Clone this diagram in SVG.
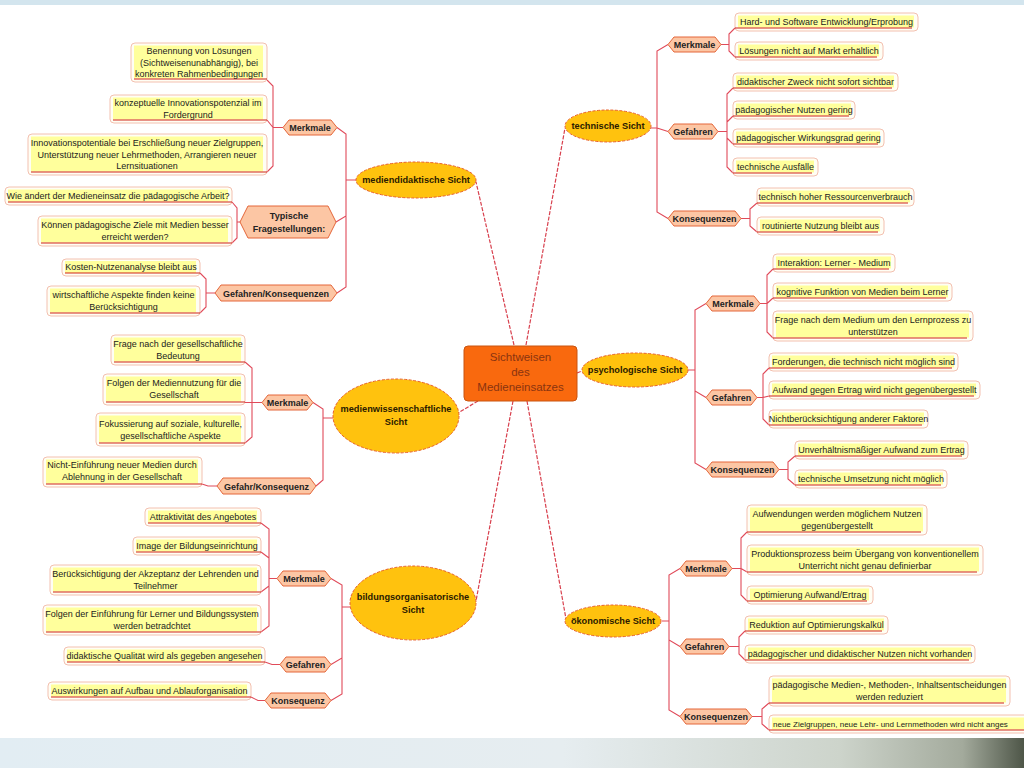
<svg xmlns="http://www.w3.org/2000/svg" width="1024" height="768" viewBox="0 0 1024 768">
<defs>
<linearGradient id="bot" x1="0" y1="0" x2="1" y2="0">
<stop offset="0" stop-color="#e2edf3"/>
<stop offset="0.55" stop-color="#e6edf0"/>
<stop offset="0.82" stop-color="#cdd4cb"/>
<stop offset="0.94" stop-color="#a3aa9c"/>
<stop offset="1" stop-color="#4e5648"/>
</linearGradient>
<style>
.lb{fill:#fffef4;stroke:#f3c0b0;stroke-width:1}
.ly{fill:#ffff9c}
.ul{stroke:#d02418;stroke-width:1.2}
.lt{font-family:"Liberation Sans",Arial,sans-serif;font-size:9px;fill:#1c1c1c;text-anchor:middle}
.ls{font-family:"Liberation Sans",Arial,sans-serif;font-size:8px;fill:#1c1c1c}
.hx{fill:#fcc6a4;stroke:#e4663a;stroke-width:1}
.ht{font-family:"Liberation Sans",Arial,sans-serif;font-size:9px;font-weight:bold;fill:#222;text-anchor:middle}
.el{fill:#ffc20e;stroke:#e8602e;stroke-width:1;stroke-dasharray:3 1.5}
.et{font-family:"Liberation Sans",Arial,sans-serif;font-size:9.2px;font-weight:bold;fill:#2a1a00;text-anchor:middle}
.cn{fill:none;stroke:#e04a5a;stroke-width:1.1}
.mc{fill:none;stroke:#d8404e;stroke-width:1.2;stroke-dasharray:4 1.5}
.ct{font-family:"Liberation Sans",Arial,sans-serif;font-size:11.5px;fill:#8a3410;text-anchor:middle}
</style>
</defs>
<rect x="0" y="0" width="1024" height="768" fill="#ffffff"/>
<rect x="0" y="0" width="1024" height="5" fill="#d3e5ee"/>
<rect x="0" y="738" width="1024" height="30" fill="url(#bot)"/>

<g id="connectors">
<path class="mc" d="M514,345 L476,182"/>
<path class="mc" d="M526,345 L565,128"/>
<path class="mc" d="M577,373 L582,371"/>
<path class="mc" d="M478,401 L458,413"/>
<path class="mc" d="M513,401 L476,601"/>
<path class="mc" d="M527,401 L566,619"/>

<path class="cn" d="M356,180 H346 V134 L337,127.5 M346,180 V216 L336,222 M346,216 V287 L337,293"/>
<path class="cn" d="M283,127.5 H273 V86 L267,80 M273,127.5 L267,120 M273,127.5 V166 L267,172"/>
<path class="cn" d="M240,222 H237 V208 L232,202 M237,222 V238 L232,243"/>
<path class="cn" d="M215,293 H206 V279 L200,273 M206,293 V307 L200,313"/>

<path class="cn" d="M333,418 H323 V409 L313,402.5 M323,418 V480 L316,486"/>
<path class="cn" d="M262,402.5 H252 V368 L245,362 M262,402.5 H245 M252,402.5 V437 L245,443"/>
<path class="cn" d="M217,486 H208 L202,484"/>

<path class="cn" d="M350,607 H342 V585 L331,578.5 M342,607 V658 L331,664.5 M342,658 V694 L331,700.5"/>
<path class="cn" d="M277,578.5 H269 V529 L261,523 M269,558 L261,552 M269,578.5 V586 L261,592 M269,578.5 V626 L261,632"/>
<path class="cn" d="M280,664.5 H272 L265,662"/>
<path class="cn" d="M265,700.5 H258 L251,697"/>

<path class="cn" d="M651,128 H657 V51 L668,44.5 M657,128 L668,131.5 M657,128 V212 L668,218.5"/>
<path class="cn" d="M721,44.5 H729 V34 L735,28 M729,44.5 V51 L735,57"/>
<path class="cn" d="M718,131.5 H727 V94 L733,88 M727,122 L733,116 M727,131.5 V138 L733,144 M727,131.5 V167 L733,173"/>
<path class="cn" d="M741,218.5 H750 V209 L757,203 M750,218.5 V226 L757,232"/>

<path class="cn" d="M688,370 H695 V310 L706,303.5 M695,370 V391 L706,397.5 M695,391 V463 L706,469.5"/>
<path class="cn" d="M760,303.5 H767 V275 L773,269 M767,303.5 L773,298 M767,303.5 V332 L773,338"/>
<path class="cn" d="M757,397.5 H763 V374 L769,368 M763,397.5 L769,396 M763,397.5 V419 L769,425"/>
<path class="cn" d="M779,469.5 H788 V462 L795,456 M788,469.5 V479 L795,485"/>

<path class="cn" d="M662,621 H669 V575 L680,568.5 M669,621 V640 L680,646.5 M669,640 V710 L680,716.5"/>
<path class="cn" d="M732,568.5 H741 V538 L747,532 M741,568.5 L747,572 M741,568.5 V595 L747,601"/>
<path class="cn" d="M729,646.5 H739 V637 L745,631 M739,646.5 V654 L745,660"/>
<path class="cn" d="M752,716.5 H762 V709 L769,703 M762,716.5 V724 L769,730"/>
</g>

<g id="center">
<rect x="464" y="346" width="113" height="55" rx="4" fill="#f9690e" stroke="#c95410" stroke-width="1"/>
<text class="ct" x="520.5" y="361">Sichtweisen</text>
<text class="ct" x="520.5" y="376">des</text>
<text class="ct" x="520.5" y="391">Medieneinsatzes</text>
</g>

<!-- mediendidaktische Sicht -->
<g id="mediendidaktisch">
<ellipse class="el" cx="416" cy="180" rx="60" ry="18"/>
<text class="et" x="416" y="183">mediendidaktische Sicht</text>
</g>
<g id="md-merkmale">
<polygon class="hx" points="283,127.5 289,120 331,120 337,127.5 331,135 289,135"/>
<text class="ht" x="310" y="131">Merkmale</text>
</g>
<g id="md-fragen">
<polygon class="hx" points="240,222 248,206 328,206 336,222 328,238 248,238"/>
<text class="ht" x="289" y="219">Typische</text>
<text class="ht" x="289" y="232">Fragestellungen:</text>
</g>
<g id="md-gefahren">
<polygon class="hx" points="215,293 221,285 331,285 337,293 331,301 221,301"/>
<text class="ht" x="276" y="296.5">Gefahren/Konsequenzen</text>
</g>
<g id="md-l1">
<rect class="lb" x="131" y="43" width="136" height="39" rx="4"/>
<rect class="ly" x="134" y="45.5" width="129" height="33"/>
<line class="ul" x1="134" y1="79" x2="267" y2="79"/>
<text class="lt" x="199" y="54">Benennung von Lösungen</text>
<text class="lt" x="199" y="65.5">(Sichtweisenunabhängig), bei</text>
<text class="lt" x="199" y="77">konkreten Rahmenbedingungen</text>
</g>
<g id="md-l2">
<rect class="lb" x="110" y="95" width="157" height="28" rx="4"/>
<rect class="ly" x="113" y="97.5" width="150" height="22"/>
<line class="ul" x1="113" y1="120" x2="267" y2="120"/>
<text class="lt" x="188" y="106">konzeptuelle Innovationspotenzial im</text>
<text class="lt" x="188" y="117.5">Fordergrund</text>
</g>
<g id="md-l3">
<rect class="lb" x="28" y="134" width="239" height="41" rx="4"/>
<rect class="ly" x="31" y="136.5" width="232" height="35"/>
<line class="ul" x1="31" y1="172" x2="267" y2="172"/>
<text class="lt" x="147" y="146">Innovationspotentiale bei Erschließung neuer Zielgruppen,</text>
<text class="lt" x="147" y="157.5">Unterstützung neuer Lehrmethoden, Arrangieren neuer</text>
<text class="lt" x="147" y="169">Lernsituationen</text>
</g>
<g id="md-l4">
<rect class="lb" x="5" y="187" width="227" height="18" rx="4"/>
<rect class="ly" x="8" y="189.5" width="220" height="12"/>
<line class="ul" x1="8" y1="202" x2="232" y2="202"/>
<text class="lt" x="118" y="199">Wie ändert der Medieneinsatz die pädagogische Arbeit?</text>
</g>
<g id="md-l5">
<rect class="lb" x="38" y="216" width="194" height="30" rx="4"/>
<rect class="ly" x="41" y="218.5" width="187" height="24"/>
<line class="ul" x1="41" y1="243" x2="232" y2="243"/>
<text class="lt" x="135" y="228">Können pädagogische Ziele mit Medien besser</text>
<text class="lt" x="135" y="240">erreicht werden?</text>
</g>
<g id="md-l6">
<rect class="lb" x="62" y="259" width="138" height="17" rx="4"/>
<rect class="ly" x="65" y="261" width="131" height="12"/>
<line class="ul" x1="65" y1="273" x2="200" y2="273"/>
<text class="lt" x="131" y="270">Kosten-Nutzenanalyse bleibt aus</text>
</g>
<g id="md-l7">
<rect class="lb" x="47" y="286" width="153" height="30" rx="4"/>
<rect class="ly" x="50" y="288.5" width="146" height="24"/>
<line class="ul" x1="50" y1="313" x2="200" y2="313"/>
<text class="lt" x="123.5" y="298">wirtschaftliche Aspekte finden keine</text>
<text class="lt" x="123.5" y="310">Berücksichtigung</text>
</g>

<!-- medienwissenschaftliche Sicht -->
<g id="medienwissenschaftlich">
<ellipse class="el" cx="396" cy="416" rx="63" ry="37"/>
<text class="et" x="396" y="412">medienwissenschaftliche</text>
<text class="et" x="396" y="425">Sicht</text>
</g>
<g id="mw-merkmale">
<polygon class="hx" points="262,402.5 268,395 307,395 313,402.5 307,410 268,410"/>
<text class="ht" x="287.5" y="406">Merkmale</text>
</g>
<g id="mw-gefahr">
<polygon class="hx" points="217,486 223,478 310,478 316,486 310,494 223,494"/>
<text class="ht" x="266.5" y="489.5">Gefahr/Konsequenz</text>
</g>
<g id="mw-l1">
<rect class="lb" x="111" y="335" width="134" height="30" rx="4"/>
<rect class="ly" x="114" y="337.5" width="127" height="24"/>
<line class="ul" x1="114" y1="362" x2="245" y2="362"/>
<text class="lt" x="178" y="347">Frage nach der gesellschaftliche</text>
<text class="lt" x="178" y="359">Bedeutung</text>
</g>
<g id="mw-l2">
<rect class="lb" x="103" y="374" width="142" height="31" rx="4"/>
<rect class="ly" x="106" y="376.5" width="135" height="25"/>
<line class="ul" x1="106" y1="402" x2="245" y2="402"/>
<text class="lt" x="174" y="386">Folgen der Mediennutzung für die</text>
<text class="lt" x="174" y="398">Gesellschaft</text>
</g>
<g id="mw-l3">
<rect class="lb" x="96" y="413" width="149" height="33" rx="4"/>
<rect class="ly" x="99" y="415.5" width="142" height="27"/>
<line class="ul" x1="99" y1="443" x2="245" y2="443"/>
<text class="lt" x="170.5" y="427">Fokussierung auf soziale, kulturelle,</text>
<text class="lt" x="170.5" y="439">gesellschaftliche Aspekte</text>
</g>
<g id="mw-l4">
<rect class="lb" x="43" y="457" width="159" height="30" rx="4"/>
<rect class="ly" x="46" y="459.5" width="152" height="24"/>
<line class="ul" x1="46" y1="484" x2="202" y2="484"/>
<text class="lt" x="122" y="468">Nicht-Einführung neuer Medien durch</text>
<text class="lt" x="122" y="480">Ablehnung in der Gesellschaft</text>
</g>

<!-- bildungsorganisatorische Sicht -->
<g id="bildungsorganisatorisch">
<ellipse class="el" cx="413" cy="603" rx="63" ry="37"/>
<text class="et" x="413" y="600">bildungsorganisatorische</text>
<text class="et" x="413" y="613">Sicht</text>
</g>
<g id="bo-merkmale">
<polygon class="hx" points="277,578.5 283,571 325,571 331,578.5 325,586 283,586"/>
<text class="ht" x="304" y="582">Merkmale</text>
</g>
<g id="bo-gefahren">
<polygon class="hx" points="280,664.5 286,657 325,657 331,664.5 325,672 286,672"/>
<text class="ht" x="305.5" y="668">Gefahren</text>
</g>
<g id="bo-konsequenz">
<polygon class="hx" points="265,700.5 271,693 325,693 331,700.5 325,708 271,708"/>
<text class="ht" x="298" y="704">Konsequenz</text>
</g>
<g id="bo-l1">
<rect class="lb" x="145" y="508" width="116" height="18" rx="4"/>
<rect class="ly" x="148" y="510.5" width="109" height="12"/>
<line class="ul" x1="148" y1="523" x2="261" y2="523"/>
<text class="lt" x="203" y="520">Attraktivität des Angebotes</text>
</g>
<g id="bo-l2">
<rect class="lb" x="133" y="537" width="128" height="18" rx="4"/>
<rect class="ly" x="136" y="539.5" width="121" height="12"/>
<line class="ul" x1="136" y1="552" x2="261" y2="552"/>
<text class="lt" x="197" y="549">Image der Bildungseinrichtung</text>
</g>
<g id="bo-l3">
<rect class="lb" x="50" y="565" width="211" height="30" rx="4"/>
<rect class="ly" x="53" y="567.5" width="204" height="24"/>
<line class="ul" x1="53" y1="592" x2="261" y2="592"/>
<text class="lt" x="155.5" y="577">Berücksichtigung der Akzeptanz der Lehrenden und</text>
<text class="lt" x="155.5" y="589">Teilnehmer</text>
</g>
<g id="bo-l4">
<rect class="lb" x="43" y="605" width="218" height="30" rx="4"/>
<rect class="ly" x="46" y="607.5" width="211" height="24"/>
<line class="ul" x1="46" y1="632" x2="261" y2="632"/>
<text class="lt" x="152" y="617">Folgen der Einführung für Lerner und Bildungssystem</text>
<text class="lt" x="152" y="629">werden betradchtet</text>
</g>
<g id="bo-l5">
<rect class="lb" x="64" y="647" width="201" height="18" rx="4"/>
<rect class="ly" x="67" y="649.5" width="194" height="12"/>
<line class="ul" x1="67" y1="662" x2="265" y2="662"/>
<text class="lt" x="164.5" y="659">didaktische Qualität wird als gegeben angesehen</text>
</g>
<g id="bo-l6">
<rect class="lb" x="48" y="682" width="203" height="18" rx="4"/>
<rect class="ly" x="51" y="684.5" width="196" height="12"/>
<line class="ul" x1="51" y1="697" x2="251" y2="697"/>
<text class="lt" x="149.5" y="694">Auswirkungen auf Aufbau und Ablauforganisation</text>
</g>

<!-- technische Sicht -->
<g id="technisch">
<ellipse class="el" cx="608" cy="126" rx="43" ry="16"/>
<text class="et" x="608" y="129">technische Sicht</text>
</g>
<g id="te-merkmale">
<polygon class="hx" points="668,44.5 674,37 715,37 721,44.5 715,52 674,52"/>
<text class="ht" x="694.5" y="48">Merkmale</text>
</g>
<g id="te-gefahren">
<polygon class="hx" points="668,131.5 674,124 712,124 718,131.5 712,139 674,139"/>
<text class="ht" x="693" y="135">Gefahren</text>
</g>
<g id="te-konsequenzen">
<polygon class="hx" points="668,218.5 674,211 735,211 741,218.5 735,226 674,226"/>
<text class="ht" x="704.5" y="222">Konsequenzen</text>
</g>
<g id="te-l1">
<rect class="lb" x="735" y="13" width="183" height="18" rx="4"/>
<rect class="ly" x="738" y="15.5" width="176" height="12"/>
<line class="ul" x1="735" y1="28" x2="912" y2="28"/>
<text class="lt" x="826.5" y="25">Hard- und Software Entwicklung/Erprobung</text>
</g>
<g id="te-l2">
<rect class="lb" x="735" y="42" width="148" height="18" rx="4"/>
<rect class="ly" x="738" y="44.5" width="141" height="12"/>
<line class="ul" x1="735" y1="57" x2="877" y2="57"/>
<text class="lt" x="809" y="54">Lösungen nicht auf Markt erhältlich</text>
</g>
<g id="te-l3">
<rect class="lb" x="733" y="73" width="165" height="18" rx="4"/>
<rect class="ly" x="736" y="75.5" width="158" height="12"/>
<line class="ul" x1="733" y1="88" x2="892" y2="88"/>
<text class="lt" x="815.5" y="85">didaktischer Zweck nicht sofort sichtbar</text>
</g>
<g id="te-l4">
<rect class="lb" x="733" y="101" width="122" height="18" rx="4"/>
<rect class="ly" x="736" y="103.5" width="115" height="12"/>
<line class="ul" x1="733" y1="116" x2="849" y2="116"/>
<text class="lt" x="794" y="113">pädagogischer Nutzen gering</text>
</g>
<g id="te-l5">
<rect class="lb" x="733" y="129" width="151" height="18" rx="4"/>
<rect class="ly" x="736" y="131.5" width="144" height="12"/>
<line class="ul" x1="733" y1="144" x2="878" y2="144"/>
<text class="lt" x="808.5" y="141">pädagogischer Wirkungsgrad gering</text>
</g>
<g id="te-l6">
<rect class="lb" x="733" y="158" width="85" height="18" rx="4"/>
<rect class="ly" x="736" y="160.5" width="78" height="12"/>
<line class="ul" x1="733" y1="173" x2="812" y2="173"/>
<text class="lt" x="775.5" y="170">technische Ausfälle</text>
</g>
<g id="te-l7">
<rect class="lb" x="757" y="188" width="157" height="18" rx="4"/>
<rect class="ly" x="760" y="190.5" width="150" height="12"/>
<line class="ul" x1="757" y1="203" x2="908" y2="203"/>
<text class="lt" x="835.5" y="200">technisch hoher Ressourcenverbrauch</text>
</g>
<g id="te-l8">
<rect class="lb" x="757" y="217" width="127" height="18" rx="4"/>
<rect class="ly" x="760" y="219.5" width="120" height="12"/>
<line class="ul" x1="757" y1="232" x2="878" y2="232"/>
<text class="lt" x="820.5" y="229">routinierte Nutzung bleibt aus</text>
</g>

<!-- psychologische Sicht -->
<g id="psychologisch">
<ellipse class="el" cx="635" cy="370" rx="53" ry="17"/>
<text class="et" x="635" y="373">psychologische Sicht</text>
</g>
<g id="ps-merkmale">
<polygon class="hx" points="706,303.5 712,296 754,296 760,303.5 754,311 712,311"/>
<text class="ht" x="733" y="307">Merkmale</text>
</g>
<g id="ps-gefahren">
<polygon class="hx" points="706,397.5 712,390 751,390 757,397.5 751,405 712,405"/>
<text class="ht" x="731.5" y="401">Gefahren</text>
</g>
<g id="ps-konsequenzen">
<polygon class="hx" points="706,469.5 712,462 773,462 779,469.5 773,477 712,477"/>
<text class="ht" x="742.5" y="473">Konsequenzen</text>
</g>
<g id="ps-l1">
<rect class="lb" x="773" y="254" width="122" height="18" rx="4"/>
<rect class="ly" x="776" y="256.5" width="115" height="12"/>
<line class="ul" x1="773" y1="269" x2="889" y2="269"/>
<text class="lt" x="834" y="266">Interaktion: Lerner - Medium</text>
</g>
<g id="ps-l2">
<rect class="lb" x="773" y="283" width="179" height="18" rx="4"/>
<rect class="ly" x="776" y="285.5" width="172" height="12"/>
<line class="ul" x1="773" y1="298" x2="946" y2="298"/>
<text class="lt" x="862.5" y="295">kognitive Funktion von Medien beim Lerner</text>
</g>
<g id="ps-l3">
<rect class="lb" x="773" y="311" width="200" height="30" rx="4"/>
<rect class="ly" x="776" y="313.5" width="193" height="24"/>
<line class="ul" x1="773" y1="338" x2="967" y2="338"/>
<text class="lt" x="873" y="323">Frage nach dem Medium um den Lernprozess zu</text>
<text class="lt" x="873" y="335">unterstützen</text>
</g>
<g id="ps-l4">
<rect class="lb" x="769" y="353" width="189" height="18" rx="4"/>
<rect class="ly" x="772" y="355.5" width="182" height="12"/>
<line class="ul" x1="769" y1="368" x2="952" y2="368"/>
<text class="lt" x="863.5" y="365">Forderungen, die technisch nicht möglich sind</text>
</g>
<g id="ps-l5">
<rect class="lb" x="769" y="381" width="211" height="18" rx="4"/>
<rect class="ly" x="772" y="383.5" width="204" height="12"/>
<line class="ul" x1="769" y1="396" x2="974" y2="396"/>
<text class="lt" x="874.5" y="393">Aufwand gegen Ertrag wird nicht gegenübergestellt</text>
</g>
<g id="ps-l6">
<rect class="lb" x="769" y="410" width="159" height="18" rx="4"/>
<rect class="ly" x="772" y="412.5" width="152" height="12"/>
<line class="ul" x1="769" y1="425" x2="922" y2="425"/>
<text class="lt" x="848.5" y="422">Nichtberücksichtigung anderer Faktoren</text>
</g>
<g id="ps-l7">
<rect class="lb" x="795" y="441" width="173" height="18" rx="4"/>
<rect class="ly" x="798" y="443.5" width="166" height="12"/>
<line class="ul" x1="795" y1="456" x2="962" y2="456"/>
<text class="lt" x="881.5" y="453">Unverhältnismäßiger Aufwand zum Ertrag</text>
</g>
<g id="ps-l8">
<rect class="lb" x="795" y="470" width="152" height="18" rx="4"/>
<rect class="ly" x="798" y="472.5" width="145" height="12"/>
<line class="ul" x1="795" y1="485" x2="941" y2="485"/>
<text class="lt" x="871" y="482">technische Umsetzung nicht möglich</text>
</g>

<!-- ökonomische Sicht -->
<g id="oekonomisch">
<ellipse class="el" cx="613" cy="621" rx="48" ry="16"/>
<text class="et" x="613" y="624">ökonomische Sicht</text>
</g>
<g id="oe-merkmale">
<polygon class="hx" points="680,568.5 686,561 726,561 732,568.5 726,576 686,576"/>
<text class="ht" x="706" y="572">Merkmale</text>
</g>
<g id="oe-gefahren">
<polygon class="hx" points="680,646.5 686,639 723,639 729,646.5 723,654 686,654"/>
<text class="ht" x="704.5" y="650">Gefahren</text>
</g>
<g id="oe-konsequenzen">
<polygon class="hx" points="680,716.5 686,709 746,709 752,716.5 746,724 686,724"/>
<text class="ht" x="716" y="720">Konsequenzen</text>
</g>
<g id="oe-l1">
<rect class="lb" x="747" y="505" width="180" height="30" rx="4"/>
<rect class="ly" x="750" y="507.5" width="173" height="24"/>
<line class="ul" x1="747" y1="532" x2="921" y2="532"/>
<text class="lt" x="837" y="517">Aufwendungen werden möglichem Nutzen</text>
<text class="lt" x="837" y="529">gegenübergestellt</text>
</g>
<g id="oe-l2">
<rect class="lb" x="747" y="545" width="236" height="30" rx="4"/>
<rect class="ly" x="750" y="547.5" width="229" height="24"/>
<line class="ul" x1="747" y1="572" x2="977" y2="572"/>
<text class="lt" x="865" y="557">Produktionsprozess beim Übergang von konventionellem</text>
<text class="lt" x="865" y="569">Unterricht nicht genau definierbar</text>
</g>
<g id="oe-l3">
<rect class="lb" x="747" y="586" width="126" height="18" rx="4"/>
<rect class="ly" x="750" y="588.5" width="119" height="12"/>
<line class="ul" x1="747" y1="601" x2="867" y2="601"/>
<text class="lt" x="810" y="598">Optimierung Aufwand/Ertrag</text>
</g>
<g id="oe-l4">
<rect class="lb" x="745" y="616" width="143" height="18" rx="4"/>
<rect class="ly" x="748" y="618.5" width="136" height="12"/>
<line class="ul" x1="745" y1="631" x2="882" y2="631"/>
<text class="lt" x="816.5" y="628">Reduktion auf Optimierungskalkül</text>
</g>
<g id="oe-l5">
<rect class="lb" x="745" y="645" width="230" height="18" rx="4"/>
<rect class="ly" x="748" y="647.5" width="223" height="12"/>
<line class="ul" x1="745" y1="660" x2="969" y2="660"/>
<text class="lt" x="860" y="657">pädagogischer und didaktischer Nutzen nicht vorhanden</text>
</g>
<g id="oe-l6">
<rect class="lb" x="769" y="676" width="241" height="30" rx="4"/>
<rect class="ly" x="772" y="678.5" width="234" height="24"/>
<line class="ul" x1="769" y1="703" x2="1004" y2="703"/>
<text class="lt" x="889.5" y="688">pädagogische Medien-, Methoden-, Inhaltsentscheidungen</text>
<text class="lt" x="889.5" y="700">werden reduziert</text>
</g>
<g id="oe-l7">
<rect class="lb" x="769" y="715" width="270" height="18" rx="4"/>
<rect class="ly" x="772" y="717.5" width="263" height="12"/>
<line class="ul" x1="769" y1="730" x2="1030" y2="730"/>
<text class="ls" x="773" y="727">neue Zielgruppen, neue Lehr- und Lernmethoden wird nicht anges</text>
</g>
</svg>
